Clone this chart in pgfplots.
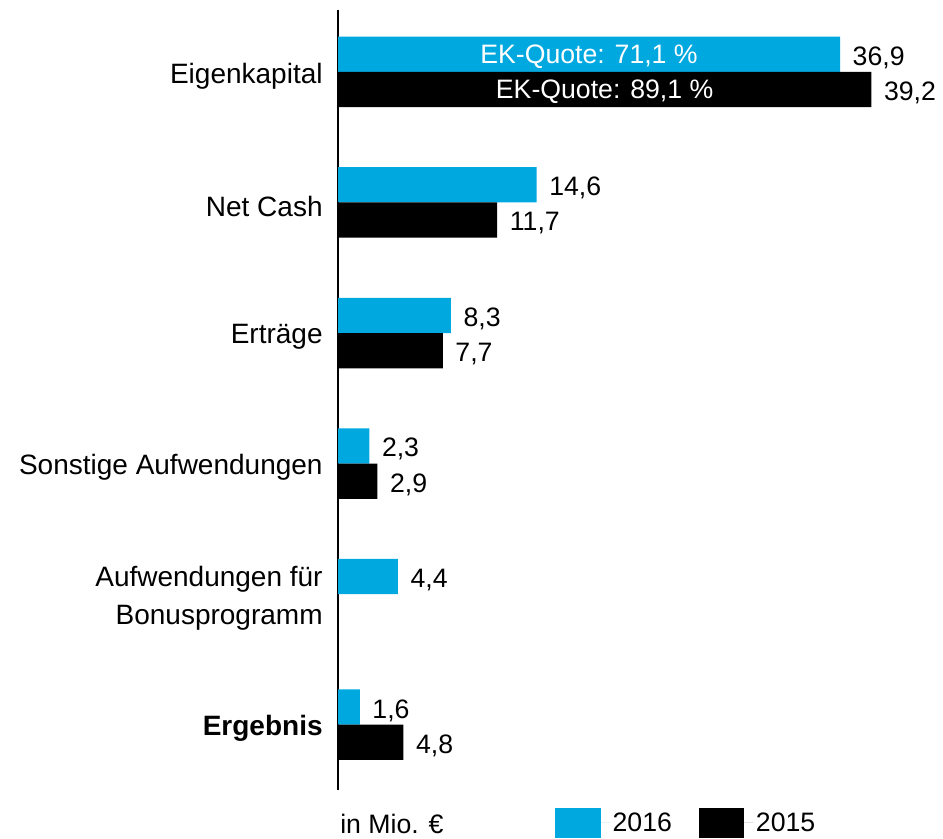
\documentclass[border=0pt]{standalone}
\usepackage{pgfplots}
\pgfplotsset{compat=1.18}
\usepackage{fontspec}
\setmainfont{Liberation Sans}
\definecolor{cyanbar}{RGB}{0,168,224}
\begin{document}
\begin{tikzpicture}[x=1pt,y=1pt]
\path[use as bounding box] (0,0) rectangle (707.25,629.25);
\begin{axis}[
  at={(253.5pt,36.75pt)}, anchor=south west,
  scale only axis, width=438.75pt, height=585pt,
  xmin=0, xmax=43, ymin=-0.5, ymax=5.474,
  clip=false,
  xbar, bar width=0.27,
  separate axis lines,
  axis x line=none, axis y line=left,
  y axis line style={-, line width=1.5pt},
  ytick={0,...,5},
  yticklabels={\textbf{Ergebnis},{Aufwendungen für\\Bonusprogramm},Sonstige Aufwendungen,Erträge,Net Cash,Eigenkapital},
  yticklabel style={align=right, font=\fontsize{21}{28}\selectfont, xshift=-8pt, yshift=-3pt},
  major tick length=0pt,
  /pgf/number format/assume math mode=true,
  /pgf/number format/use comma,
  /pgf/number format/fixed,
  /pgf/number format/fixed zerofill,
  /pgf/number format/precision=1,
  nodes near coords,
  nodes near coords style={anchor=west, font=\fontsize{20}{24}\selectfont, text=black, xshift=6pt, yshift=-2.5pt},
  legend columns=2,
  legend style={draw=none, fill=none, at={(axis description cs:0.371,0)}, anchor=north west, yshift=-13pt, inner sep=0pt, font=\fontsize{20}{24}\selectfont, /tikz/every even column/.append style={column sep=18pt}},
  legend image code/.code={\fill[#1,draw=none] (0pt,-11.5pt) rectangle (34pt,11.5pt); \path (34pt,0pt) -- (41pt,0pt);},
]
\addplot[fill=cyanbar, draw=none, bar shift=0.135] coordinates {(36.9,5) (14.6,4) (8.3,3) (2.3,2) (4.4,1) (1.6,0)};
\addplot[fill=black, draw=none, bar shift=-0.135] coordinates {(39.2,5) (11.7,4) (7.7,3) (2.9,2) (4.8,0)};
\legend{2016,2015}
\node[text=white, font=\fontsize{20}{24}\selectfont, yshift=-2pt] at (axis cs:18.45,5.135) {EK-Quote: 71,1 \%};
\node[text=white, font=\fontsize{20}{24}\selectfont, yshift=-2pt] at (axis cs:19.6,4.865) {EK-Quote: 89,1 \%};
\node[anchor=base west, inner sep=0pt, font=\fontsize{20}{24}\selectfont] at (axis description cs:0,0) [xshift=1.5pt, yshift=-33pt] {in Mio. €};
\end{axis}
\end{tikzpicture}
\end{document}
